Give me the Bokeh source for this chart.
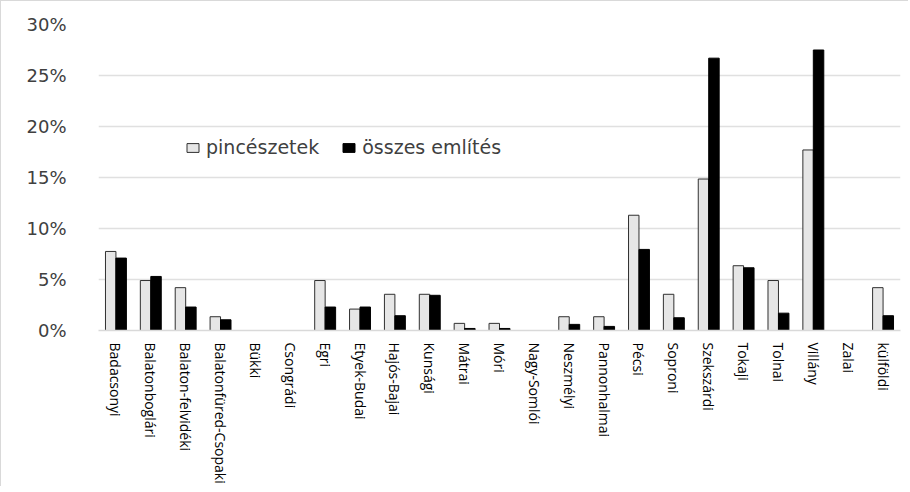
from bokeh.plotting import figure
from bokeh.models import ColumnDataSource, FactorRange, Range1d, FixedTicker, PrintfTickFormatter
from bokeh.transform import dodge
from bokeh.embed import file_html
from bokeh.resources import INLINE

categories = ["Badacsonyi", "Balatonboglári", "Balaton-felvidéki", "Balatonfüred-Csopaki",
              "Bükki", "Csongrádi", "Egri", "Etyek-Budai", "Hajós-Bajai", "Kunsági",
              "Mátrai", "Móri", "Nagy-Somlói", "Neszmélyi", "Pannonhalmai", "Pécsi",
              "Soproni", "Szekszárdi", "Tokaji", "Tolnai", "Villány", "Zalai", "külföldi"]
pinceszetek = [7.75, 4.9, 4.2, 1.35, 0, 0, 4.9, 2.1, 3.55, 3.55, 0.7, 0.7, 0, 1.35, 1.35,
               11.3, 3.55, 14.85, 6.35, 4.9, 17.7, 0, 4.2]
osszes = [7.1, 5.3, 2.3, 1.05, 0, 0, 2.3, 2.3, 1.45, 3.45, 0.2, 0.2, 0, 0.6, 0.4,
          7.95, 1.25, 26.7, 6.15, 1.7, 27.5, 0, 1.45]
y_ticks = [0, 5, 10, 15, 20, 25, 30]

src = ColumnDataSource(dict(
    cat=categories,
    a=pinceszetek,
    b=osszes,
    la=[1 if v > 0 else 0 for v in pinceszetek],
    lb=[1 if v > 0 else 0 for v in osszes],
))

p = figure(x_range=FactorRange(*categories, range_padding=0),
           y_range=Range1d(0, 30),
           frame_width=802, frame_height=306,
           min_border_left=97, min_border_right=8, min_border_top=23, min_border_bottom=20,
           output_backend="svg", toolbar_location=None)
p.styles = {"border-left": "1px solid #d9d9d9", "border-top": "1px solid #d9d9d9"}

p.vbar(x=dodge("cat", -0.15, range=p.x_range), top="a", width=0.30, source=src,
       fill_color="#e6e6e6", line_color="#303030", line_width=1, line_alpha="la",
       legend_label="pincészetek")
p.vbar(x=dodge("cat", 0.15, range=p.x_range), top="b", width=0.30, source=src,
       fill_color="#000000", line_color="#000000", line_width=1, line_alpha="lb",
       legend_label="összes említés")

p.outline_line_color = None
p.xgrid.grid_line_color = None
p.ygrid.grid_line_color = "#e0e0e0"
p.ygrid.grid_line_width = 1.5
p.ygrid.ticker = FixedTicker(ticks=y_ticks)

p.yaxis.ticker = FixedTicker(ticks=y_ticks)
p.yaxis.formatter = PrintfTickFormatter(format="%d%%")
p.yaxis.axis_line_color = None
p.yaxis.major_tick_line_color = None
p.yaxis.minor_tick_line_color = None
p.yaxis.major_label_standoff = 26
p.yaxis.major_label_text_font = "DejaVu Sans"
p.yaxis.major_label_text_font_size = "18px"
p.yaxis.major_label_text_color = "#404040"

p.xaxis.axis_line_color = "#d9d9d9"
p.xaxis.axis_line_width = 1.5
p.xaxis.major_tick_line_color = None
p.xaxis.minor_tick_line_color = None
p.xaxis.major_label_orientation = "vertical"
p.xaxis.major_label_standoff = 6
p.xaxis.major_label_text_font = "Open Sans"
p.xaxis.major_label_text_font_size = "14px"
p.xaxis.major_label_text_color = "#000000"

lg = p.legend[0]
lg.orientation = "horizontal"
lg.location = (87, 172)
lg.border_line_color = None
lg.background_fill_alpha = 0
lg.padding = 0
lg.margin = 0
lg.spacing = 22
lg.glyph_width = 15
lg.glyph_height = 11
lg.label_standoff = 6
lg.label_text_font = "DejaVu Sans"
lg.label_text_font_size = "19px"
lg.label_text_color = "#404040"

open("out.html", "w").write(file_html(p, INLINE))
